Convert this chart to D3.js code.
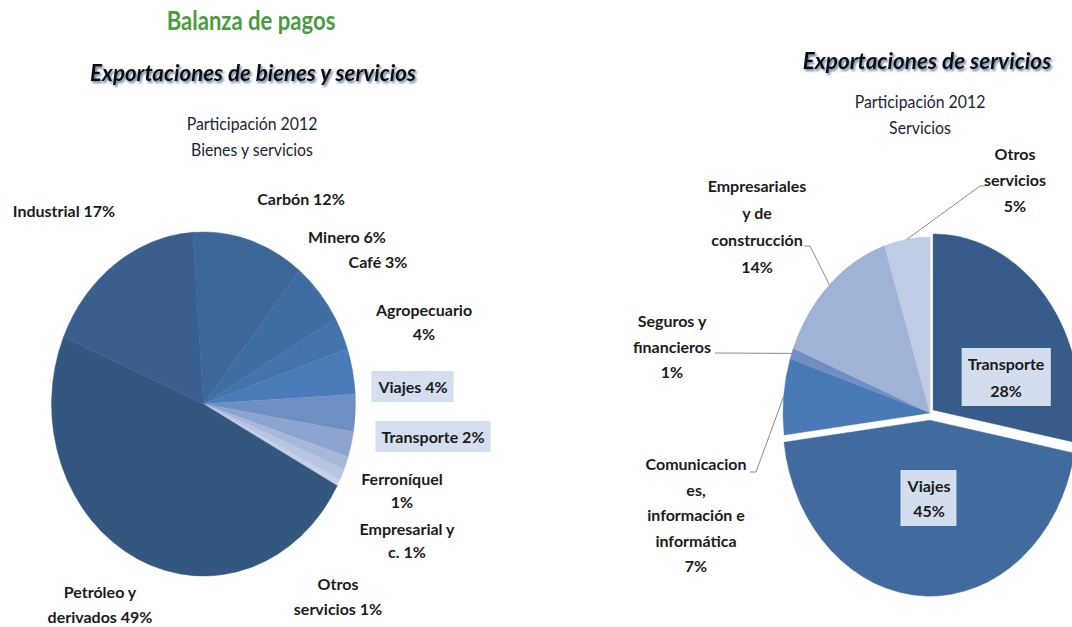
<!DOCTYPE html>
<html>
<head>
<meta charset="utf-8">
<script src="https://cdn.jsdelivr.net/npm/d3@7"></script>
<style>
  body { margin: 0; background: #fff; }
  svg { display: block; }
</style>
</head>
<body>
<svg id="chart" width="1072" height="627"></svg>
<script>
// ---- data: participación 2012, bienes y servicios (left pie, clockwise from top)
var bienesCats = ["Carbón", "Minero", "Café", "Agropecuario", "Viajes", "Transporte",
  "Ferroníquel", "Empresarial y c.", "Otros servicios", "Petróleo y derivados", "Industrial"];
var bienesVals = [12, 5.9, 3, 4.3, 3.5, 2.4, 1.2, 1.1, 0.6, 48.5, 17.5];
var bienesLabels = [["Carbón 12%"], ["Minero 6%"], ["Café 3%"], ["Agropecuario", "4%"],
  ["Viajes 4%"], ["Transporte 2%"], ["Ferroníquel", "1%"], ["Empresarial y", "c. 1%"],
  ["Otros", "servicios 1%"], ["Petróleo y", "derivados 49%"], ["Industrial 17%"]];

// ---- data: participación 2012, servicios (right pie, clockwise from top)
var servCats = ["Transporte", "Viajes", "Comunicaciones, información e informática",
  "Seguros y financieros", "Empresariales y de construcción", "Otros servicios"];
var servVals = [28, 45, 7, 1, 14, 5];
var servLabels = [["Transporte", "28%"], ["Viajes", "45%"],
  ["Comunicacion", "es,", "información e", "informática", "7%"],
  ["Seguros y", "financieros", "1%"], ["Empresariales", "y de", "construcción", "14%"],
  ["Otros", "servicios", "5%"]];

// ---- styling / layout
var bienesColors = ["#3d6797", "#406da1", "#4373aa", "#497cb8", "#6e8fc2", "#8da4d0",
  "#a7b8db", "#b6c5e2", "#c6d1e8", "#34577f", "#3a5f8e"];
var servColors = ["#385c8a", "#416b9f", "#4a7ab6", "#6f8fc4", "#a0b3d6", "#c0cce3"];
var servExplode = [4, 6, 0, 0, 0, 0];

// label anchors [x, baseline of first line, line height, boxed]
var bienesPos = [[301, 205, 0], [347, 243, 0], [378, 268, 0], [424, 316, 24], [413, 393, 0, true],
  [433, 443, 0, true], [402, 485, 23], [407, 535, 23], [338, 590, 25], [100, 598, 25], [64, 217, 0]];
var servPos = [[1006, 370, 27, true], [929, 492, 25, true], [696, 470, 25.5],
  [672, 327, 25.5], [757, 192, 27], [1015, 160, 26]];
// leader elbows (label side) for the right pie, null = no leader
var servLeader = [null, null, [[750, 472], [756, 472]], [[715, 353]], [[804, 246], [810, 246]], [[985, 186], [980, 186]]];

var FONT = "Lato, 'Open Sans', sans-serif";
var svg = d3.select("#chart");

var defs = svg.append("defs");
var f = defs.append("filter").attr("id", "shadow").attr("x", "-5%").attr("y", "-30%")
  .attr("width", "115%").attr("height", "170%");
f.append("feDropShadow").attr("dx", 1.5).attr("dy", 2).attr("stdDeviation", 1.1)
  .attr("flood-color", "#4a6189").attr("flood-opacity", 0.85);

function addText(x, y, lines, o) {
  o = o || {};
  var t = svg.append("text")
    .attr("transform", "translate(" + x + "," + y + ") scale(" + (o.sx || 1) + ",1)")
    .attr("text-anchor", "middle")
    .style("font-family", o.family || FONT)
    .style("font-size", (o.size || 16) + "px")
    .style("font-weight", o.weight || "bold")
    .style("font-style", o.style || "normal")
    .attr("fill", o.color || "#1b1b1b");
  if (o.filter) t.attr("filter", o.filter);
  lines.forEach(function (l, i) {
    t.append("tspan").attr("x", 0).attr("dy", i ? o.lh : 0).text(l);
  });
  return t;
}

function boxBehind(t, padX, padY, fill) {
  var b = t.node().getBBox();
  var tr = t.attr("transform");
  svg.insert("rect", function () { return t.node(); })
    .attr("transform", tr)
    .attr("x", b.x - padX).attr("y", b.y - padY)
    .attr("width", b.width + 2 * padX).attr("height", b.height + 2 * padY)
    .attr("fill", fill);
}

// ---- titles
addText(251, 30, ["Balanza de pagos"], { size: 26, sx: 0.85, color: "#4b9b3f" });
addText(253, 81, ["Exportaciones de bienes y servicios"], { size: 22.5, sx: 0.99, style: "italic", filter: "url(#shadow)", color: "#0d0d0d" });
addText(252, 130, ["Participación 2012", "Bienes y servicios"], { size: 16.5, weight: "normal", lh: 26, color: "#1c2436", sx: 0.96 });
addText(927, 69, ["Exportaciones de servicios"], { size: 22.5, sx: 1.0, style: "italic", filter: "url(#shadow)", color: "#0d0d0d" });
addText(920, 108, ["Participación 2012", "Servicios"], { size: 16.5, weight: "normal", lh: 26, color: "#1c2436", sx: 0.96 });

// ---- left pie
var a0 = -4 * Math.PI / 180;
var pieL = d3.pie().sort(null).value(function (d) { return d; })
  .startAngle(a0).endAngle(a0 + 2 * Math.PI);
var arcL = d3.arc().innerRadius(0).outerRadius(152);
var gL = svg.append("g").attr("transform", "translate(203.5,404) scale(1,1.132)");
gL.selectAll("path").data(pieL(bienesVals)).join("path")
  .attr("d", arcL)
  .attr("fill", function (d, i) { return bienesColors[i]; })
  .attr("stroke", function (d, i) { return bienesColors[i]; })
  .attr("stroke-width", 0.4);

bienesLabels.forEach(function (lines, i) {
  var p = bienesPos[i];
  var t = addText(p[0], p[1], lines, { size: 16, lh: p[2] });
  if (p[3]) boxBehind(t, 6, 6, "#d4deef");
});

// ---- right pie
var pieR = d3.pie().sort(null).value(function (d) { return d; });
var R = 147, SY = 1.197, cxR = 930, cyR = 413;
var arcR = d3.arc().innerRadius(0).outerRadius(R);
var gR = svg.append("g").attr("transform", "translate(" + cxR + "," + cyR + ") scale(1," + SY + ")");
var arcsR = pieR(servVals);
gR.selectAll("path").data(arcsR).join("path")
  .attr("d", arcR)
  .attr("transform", function (d, i) {
    var m = (d.startAngle + d.endAngle) / 2, e = servExplode[i];
    return "translate(" + (Math.sin(m) * e) + "," + (-Math.cos(m) * e) + ")";
  })
  .attr("fill", function (d, i) { return servColors[i]; })
  .attr("stroke", function (d, i) { return servColors[i]; })
  .attr("stroke-width", 0.4);

// leader lines from slice edge to label
arcsR.forEach(function (d, i) {
  if (!servLeader[i]) return;
  var m = (d.startAngle + d.endAngle) / 2;
  var pts = servLeader[i].concat([[cxR + Math.sin(m) * R, cyR - Math.cos(m) * R * SY]]);
  svg.append("path").attr("d", d3.line()(pts))
    .attr("fill", "none").attr("stroke", "#8c8c8c").attr("stroke-width", 1);
});

servLabels.forEach(function (lines, i) {
  var p = servPos[i];
  var t = addText(p[0], p[1], lines, { size: 16, lh: p[2] });
  if (p[3]) boxBehind(t, 6, 6, "#d2ddee");
});
</script>
</body>
</html>
